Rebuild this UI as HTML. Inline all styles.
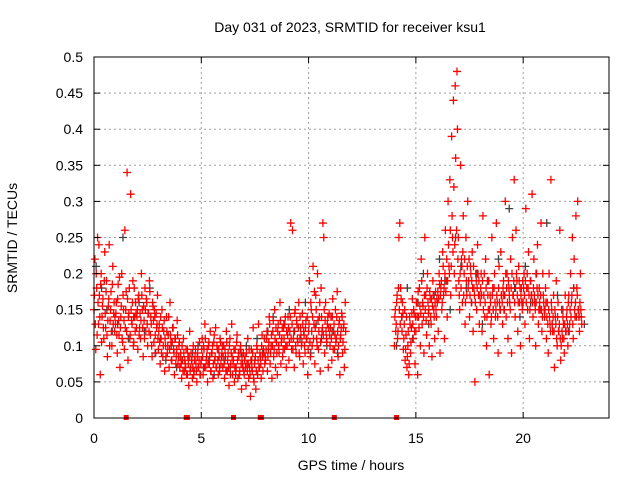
<!DOCTYPE html>
<html><head><meta charset="utf-8"><style>
body{margin:0;background:#fff}
svg{display:block;font-family:"Liberation Sans",sans-serif}
</style></head><body>
<svg id="chart" width="640" height="480" xmlns="http://www.w3.org/2000/svg">
<rect width="640" height="480" fill="#fff"/>
<text x="350" y="32" font-size="14" text-anchor="middle">Day 031 of 2023, SRMTID for receiver ksu1</text>
<text x="351" y="470" font-size="14" text-anchor="middle">GPS time / hours</text>
<text transform="translate(17,238) rotate(-90)" font-size="14" text-anchor="middle">SRMTID / TECUs</text>
<g id="grid"></g><g id="dark"></g><g id="red"></g><g id="axes"></g>
</svg>
<script>
const xTicks=[0,5,10,15,20];
const yTicks=[0,0.05,0.1,0.15,0.2,0.25,0.3,0.35,0.4,0.45,0.5];
const yTickLabels=["0","0.05","0.1","0.15","0.2","0.25","0.3","0.35","0.4","0.45","0.5"];
const redStartA=0, redStartB=14, redStep=1/24;
const redA=[150,220,95,180,250,130,170,60,200,140,165,110,230,125,190,85,155,240,135,175,100,210,145,120,
130,160,90,185,115,70,140,200,105,150,95,125,175,340,80,145,110,310,135,160,100,180,120,145,
140,95,170,125,110,200,150,85,135,180,120,160,100,145,190,115,130,85,155,105,140,90,125,170,
95,130,75,110,150,85,120,65,100,140,90,115,70,160,105,80,125,95,60,110,85,135,75,100,
70,90,55,80,110,65,75,95,60,85,45,120,70,80,55,100,65,85,75,50,90,70,105,60,
80,110,60,95,130,70,85,50,100,75,120,65,90,55,105,80,125,70,95,60,85,110,75,90,
70,100,55,85,120,65,90,45,110,75,130,60,80,50,95,70,115,55,85,65,100,40,75,90,
60,85,45,75,110,55,70,30,95,65,125,50,80,40,100,60,130,70,85,55,115,65,90,75,
80,110,65,95,140,75,100,55,120,85,150,70,105,60,130,90,160,75,110,85,125,95,140,70,
100,140,80,120,270,95,260,110,70,150,90,130,105,160,85,125,100,145,75,115,90,135,110,60,
120,190,85,150,100,210,130,75,170,110,200,95,140,65,180,120,270,250,90,160,110,130,70,145,
100,140,80,165,120,95,150,110,175,85,130,60,115,145,90,125,70,160];
const redA2=[170,130,200,115,160,240,140,185,105,155,125,190,145,175,115,135,165,100,150,120,185,130,160,140,
145,115,165,135,195,125,155,110,170,135,260,150,120,165,140,180,115,150,130,190,105,140,160,125,
150,165,115,145,135,170,125,155,110,150,165,130,145,120,175,140,100,160,135,150,115,145,130,110,
120,105,140,90,125,100,135,110,85,120,100,140,95,115,80,105,125,90,110,75,95,115,85,105,
85,75,100,65,90,80,70,60,95,75,85,65,90,80,70,60,80,95,65,85,70,80,60,75,
95,85,100,70,110,80,95,75,105,85,65,90,100,75,115,85,70,100,80,95,65,105,85,100,
85,75,95,65,105,80,70,100,60,90,85,75,95,70,65,105,80,90,60,95,75,85,70,65,
80,70,90,65,75,95,60,80,70,90,55,75,85,65,95,80,70,90,75,100,85,95,110,85,
95,120,85,105,130,90,115,100,135,95,110,125,90,120,100,115,135,105,125,95,110,130,100,120,
115,125,105,140,110,130,95,120,145,100,135,110,125,90,140,115,105,130,120,100,125,110,140,95,
130,105,160,120,140,110,175,125,150,100,135,120,160,105,140,125,115,150,135,120,105,140,125,115,
125,110,140,95,130,115,105,140,120,100,135,110,125,140,105,130,95,120];
const redB=[100,150,130,170,120,250,270,180,140,160,95,130,80,115,70,100,60,140,90,125,165,110,145,75,
120,160,60,140,180,100,220,130,155,90,250,170,115,200,145,100,165,130,85,190,150,110,175,140,
160,120,200,90,180,150,230,170,110,260,190,140,300,210,330,170,390,250,440,200,460,180,480,220,
190,150,350,220,160,280,200,130,250,170,300,190,140,210,160,230,120,180,50,200,150,240,170,130,
160,200,120,280,170,140,220,100,190,150,60,170,130,250,180,110,200,140,270,160,90,210,150,230,
170,130,190,150,300,140,200,110,180,160,220,90,250,170,330,140,260,190,120,210,160,100,180,150,
160,200,130,290,180,150,230,110,190,170,310,140,220,160,100,200,240,130,180,150,270,120,200,160,
140,180,110,160,90,200,130,330,150,120,170,70,140,190,100,160,120,260,80,150,110,130,90,170,
120,150,100,170,130,200,160,250,110,220,140,280,180,300,150,120,200,140];
const redB2=[140,120,160,110,180,150,130,165,120,145,110,150,95,140,85,120,75,130,105,145,130,150,120,140,
160,140,175,125,155,145,190,160,140,170,150,135,180,160,150,175,140,165,155,170,140,160,150,165,
175,165,185,170,190,160,210,180,200,175,220,190,240,200,260,210,280,230,320,240,360,260,400,250,
170,200,180,210,230,170,220,160,190,210,180,220,170,200,190,180,210,170,160,190,180,200,190,170,
180,170,190,150,200,160,180,140,170,190,150,160,140,170,150,180,160,150,170,140,180,160,150,170,
160,180,150,170,200,180,160,190,170,150,180,200,170,190,160,180,200,170,160,190,180,170,160,190,
180,170,190,160,200,180,170,150,190,170,160,180,170,150,160,180,170,150,160,170,150,140,170,150,
150,160,140,130,150,140,120,160,130,140,120,150,130,110,140,120,130,110,100,120,140,110,130,120,
140,130,160,120,150,140,170,130,180,150,160,140,170,150,140,160,150,130];
const darkStep=0.25;
const darkA=[210,180,150,120,130,250,110,140,160,120,180,90,110,80,100,70,80,60,90,100,70,80,60,70,80,70,60,90,100,80,110,90,120,140,100,130,150,120,110,160,90,130,110,100,120,90];
const darkB=[100,140,180,110,160,200,130,170,220,190,150,250,210,180,160,200,130,190,150,220,170,290,180,140,210,160,200,150,270,130,170,150,120,180,140,130];
const zeroMarks=[1.5,4.3,4.35,6.5,7.75,7.8,11.2,14.1];

const L=94,R=609,T=57,B=418,XMAX=24,YMAX=0.5;
const sx=v=>L+(R-L)*v/XMAX, sy=v=>B-(B-T)*v/YMAX;
const NS="http://www.w3.org/2000/svg";
function mk(tag,at,parent){const e=document.createElementNS(NS,tag);for(const k in at)e.setAttribute(k,at[k]);parent.appendChild(e);return e;}
const grid=document.getElementById('grid'),axes=document.getElementById('axes');
yTicks.forEach((v,i)=>{
  if(i>0&&i<yTicks.length-1){const g=mk('line',{x1:L,x2:R,y1:sy(v),y2:sy(v),stroke:'#a0a0a0','stroke-dasharray':'2,3'},grid);
  
  }
  const t=mk('line',{x1:L,x2:L+6,y1:sy(v),y2:sy(v),stroke:'#000'},axes);
  
  
  const t2=mk('line',{x1:R-6,x2:R,y1:sy(v),y2:sy(v),stroke:'#000'},axes);
  
  
  const lb=mk('text',{x:83,y:sy(v)+5,'font-size':14,'text-anchor':'end'},axes);lb.textContent=yTickLabels[i];
  
  
});
xTicks.forEach(v=>{
  if(v>0){const g=mk('line',{x1:sx(v),x2:sx(v),y1:T,y2:B,stroke:'#a0a0a0','stroke-dasharray':'2,3'},grid);
  
  }
  const t=mk('line',{x1:sx(v),x2:sx(v),y1:B,y2:B-6,stroke:'#000'},axes);
  
  
  const t2=mk('line',{x1:sx(v),x2:sx(v),y1:T,y2:T+6,stroke:'#000'},axes);
  
  
  const lb=mk('text',{x:sx(v),y:443,'font-size':14,'text-anchor':'middle'},axes);lb.textContent=String(v);
  
  
});
const frame=mk('rect',{x:L,y:T,width:R-L,height:B-T,fill:'none',stroke:'#000'},axes);


function plus(g,x,y,c){return mk('path',{d:`M${x-4},${y}h8M${x},${y-4}v8`,stroke:c,'stroke-width':1.3,fill:'none'},g);}
const dark=document.getElementById('dark'),red=document.getElementById('red');
[[darkA,0],[darkB,14]].forEach(([arr,s])=>arr.forEach((v,i)=>{
  const p=plus(dark,sx(s+i*darkStep+0.1),sy(v/1000),'#404040');
  
  
}));
[[redA,redStartA,0],[redB,redStartB,0],[redA2,redStartA,0.5],[redB2,redStartB,0.5]].forEach(([arr,s,o])=>arr.forEach((v,i)=>{
  const p=plus(red,sx(s+(i+o)*redStep),sy(v/1000),'#ff0000');
  
  
}));
zeroMarks.forEach(v=>{
  const r=mk('rect',{x:sx(v)-2.5,y:B-3,width:5,height:5,fill:'#ff0000'},red);
  
  
});
</script>
</body></html>
